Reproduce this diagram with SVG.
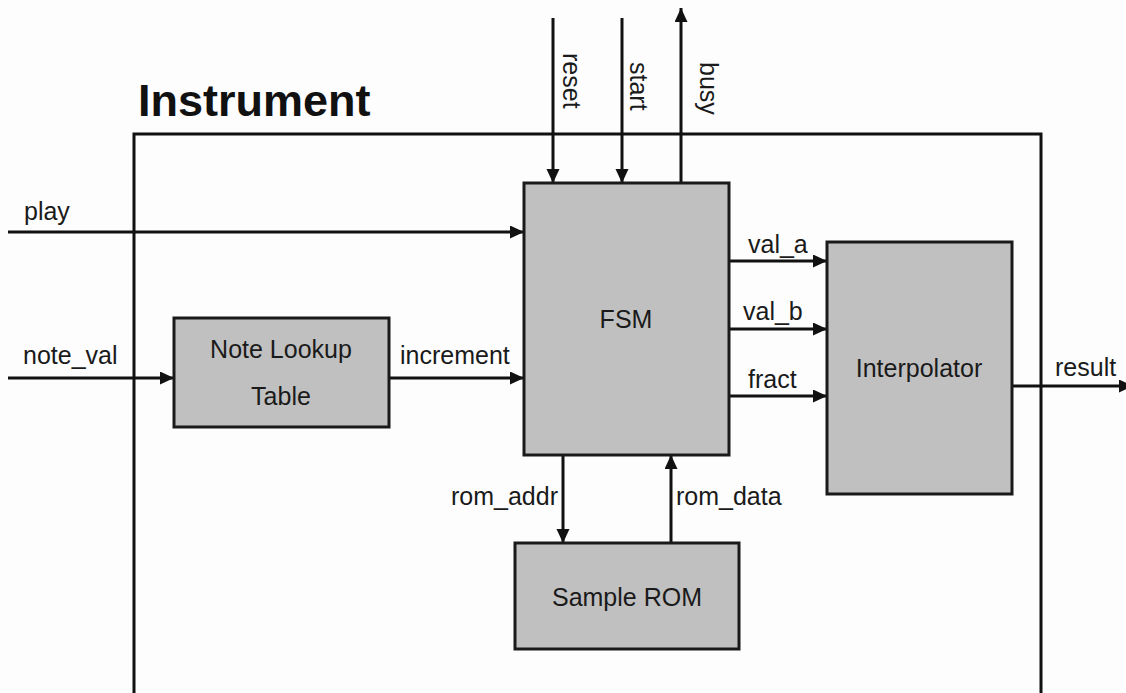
<svg xmlns="http://www.w3.org/2000/svg" width="1126" height="693" viewBox="0 0 1126 693">
<defs>
<marker id="arr" markerUnits="userSpaceOnUse" markerWidth="15" markerHeight="14" refX="14" refY="6.5" orient="auto">
<path d="M0,0 L14,6.5 L0,13 z" fill="#111"/>
</marker>
<style>
.frame{fill:none;stroke:#111;stroke-width:3}
.box{fill:#c0c0c0;stroke:#1a1a1a;stroke-width:3}
.wire{fill:none;stroke:#111;stroke-width:3}
.arr{marker-end:url(#arr)}
text{font-family:"Liberation Sans",Arial,sans-serif;font-size:25px;fill:#1a1a1a}
.mid{text-anchor:middle}
.title{font-weight:bold;font-size:45px;fill:#111}
</style>
</defs>
<rect x="0" y="0" width="1126" height="693" fill="#fdfdfd"/>
<g id="instrument">
<path class="frame" d="M134,700 V134 H1041 V700"/>
<text class="title" x="138" y="116">Instrument</text>
</g>
<g id="connectors">
<line class="wire arr" x1="8" y1="232" x2="524" y2="232"/>
<line class="wire arr" x1="8" y1="378" x2="174" y2="378"/>
<line class="wire arr" x1="389" y1="378" x2="524" y2="378"/>
<line class="wire arr" x1="553" y1="18" x2="553" y2="183"/>
<line class="wire arr" x1="622" y1="18" x2="622" y2="183"/>
<line class="wire arr" x1="681" y1="183" x2="681" y2="8"/>
<line class="wire arr" x1="729" y1="261" x2="827" y2="261"/>
<line class="wire arr" x1="729" y1="329" x2="827" y2="329"/>
<line class="wire arr" x1="729" y1="396" x2="827" y2="396"/>
<line class="wire arr" x1="1012" y1="386" x2="1133" y2="386"/>
<line class="wire arr" x1="563" y1="455" x2="563" y2="543"/>
<line class="wire arr" x1="671" y1="543" x2="671" y2="455"/>
<text x="24" y="220">play</text>
<text x="23" y="364">note_val</text>
<text x="400" y="364">increment</text>
<text transform="translate(563,53) rotate(90)">reset</text>
<text transform="translate(630,62) rotate(90)">start</text>
<text transform="translate(700,62) rotate(90)">busy</text>
<text x="748" y="253">val_a</text>
<text x="743" y="320">val_b</text>
<text x="748" y="388">fract</text>
<text x="1055" y="376">result</text>
<text x="558" y="505" text-anchor="end">rom_addr</text>
<text x="676" y="505">rom_data</text>
</g>
<g id="fsm">
<rect class="box" x="524" y="183" width="205" height="272"/>
<text class="mid" x="626" y="328">FSM</text>
</g>
<g id="note_lookup_table">
<rect class="box" x="174" y="318" width="215" height="109"/>
<text class="mid" x="281" y="358">Note Lookup</text>
<text class="mid" x="281" y="405">Table</text>
</g>
<g id="interpolator">
<rect class="box" x="827" y="242" width="185" height="252"/>
<text class="mid" x="919" y="377">Interpolator</text>
</g>
<g id="sample_rom">
<rect class="box" x="515" y="543" width="224" height="106"/>
<text class="mid" x="627" y="606">Sample ROM</text>
</g>
</svg>
